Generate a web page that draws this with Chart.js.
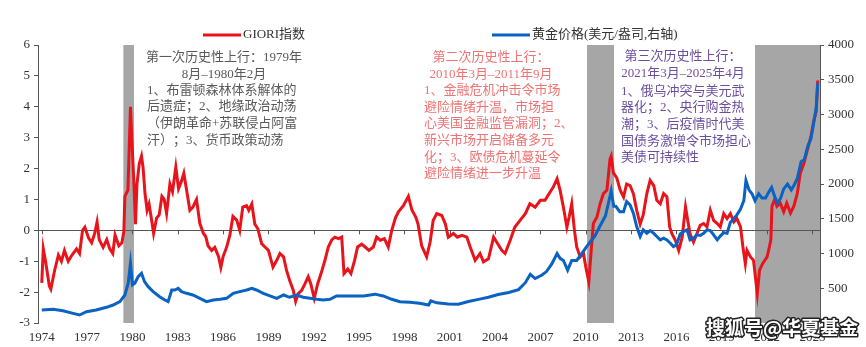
<!DOCTYPE html>
<html>
<head>
<meta charset="utf-8">
<script src="https://cdn.jsdelivr.net/npm/chart.js@4.4.1/dist/chart.umd.min.js"></script>
<style>
  body { margin: 0; background: #fff; }
  canvas { display: block; }
</style>
</head>
<body>
<canvas id="myChart" width="866" height="347"></canvas>
<script>
// --- data (decimal years) ---
const yearTicks = [1974, 1977, 1980, 1983, 1986, 1989, 1992, 1995, 1998, 2001, 2004, 2007, 2010, 2013, 2016, 2019, 2022, 2025];
const leftTicks = [-3, -2, -1, 0, 1, 2, 3, 4, 5, 6];
const rightTicks = [500, 1000, 1500, 2000, 2500, 3000, 3500, 4000];

const shadeStart = [1979.4, 2010.08, 2021.2];
const shadeEnd = [1980.1, 2011.87, 2025.5];

const giorDates = [
  1974.0, 1974.1, 1974.25, 1974.5, 1974.6, 1974.85, 1975.1, 1975.3, 1975.5, 1975.75,
  1976.0, 1976.3, 1976.5, 1976.7, 1976.85, 1977.1, 1977.3, 1977.5, 1977.66, 1977.8,
  1978.06, 1978.3, 1978.5, 1978.7, 1978.85, 1979.1, 1979.3, 1979.43, 1979.5, 1979.7,
  1979.87, 1979.95, 1980.1, 1980.2, 1980.3, 1980.45, 1980.6, 1980.7, 1980.83, 1980.97,
  1981.1, 1981.27, 1981.4, 1981.6, 1981.77, 1981.95, 1982.1, 1982.26, 1982.48, 1982.65,
  1982.87, 1983.05, 1983.25, 1983.4, 1983.55, 1983.8, 1984.0, 1984.24, 1984.46, 1984.7,
  1984.85, 1985.0, 1985.24, 1985.45, 1985.7, 1985.85, 1986.0, 1986.23, 1986.45, 1986.65,
  1986.9, 1987.1, 1987.3, 1987.55, 1987.7, 1987.9, 1988.1, 1988.3, 1988.55, 1988.77,
  1989.0, 1989.3, 1989.55, 1989.76, 1990.0, 1990.2, 1990.4, 1990.64, 1990.8, 1990.97,
  1991.2, 1991.4, 1991.63, 1991.8, 1992.03, 1992.26, 1992.48, 1992.74, 1992.96, 1993.2,
  1993.4, 1993.63, 1993.85, 1994.0, 1994.25, 1994.46, 1994.7, 1994.9, 1995.17, 1995.4,
  1995.65, 1995.94, 1996.16, 1996.4, 1996.67, 1996.93, 1997.16, 1997.4, 1997.6, 1997.93,
  1998.26, 1998.5, 1998.75, 1998.9, 1999.14, 1999.47, 1999.7, 1999.9, 2000.14, 2000.47,
  2000.7, 2000.9, 2001.24, 2001.5, 2001.8, 2002.13, 2002.35, 2002.68, 2003.0, 2003.23,
  2003.56, 2003.9, 2004.1, 2004.44, 2004.66, 2005.0, 2005.3, 2005.65, 2006.0, 2006.3,
  2006.65, 2007.0, 2007.3, 2007.64, 2007.85, 2008.1, 2008.3, 2008.52, 2008.75, 2008.9,
  2009.07, 2009.25, 2009.4, 2009.63, 2009.85, 2010.0, 2010.2, 2010.36, 2010.5, 2010.74,
  2010.95, 2011.17, 2011.4, 2011.6, 2011.68, 2011.83, 2012.05, 2012.28, 2012.5, 2012.7,
  2012.93, 2013.15, 2013.37, 2013.6, 2013.8, 2014.04, 2014.26, 2014.5, 2014.7, 2014.93,
  2015.15, 2015.37, 2015.55, 2015.7, 2015.93, 2016.15, 2016.38, 2016.6, 2016.75, 2016.9,
  2017.13, 2017.35, 2017.57, 2017.8, 2018.02, 2018.24, 2018.46, 2018.7, 2018.9, 2019.13,
  2019.35, 2019.57, 2019.8, 2020.0, 2020.24, 2020.4, 2020.56, 2020.67, 2020.9, 2021.1,
  2021.35, 2021.5, 2021.7, 2022.0, 2022.15, 2022.25, 2022.32, 2022.5, 2022.65, 2022.87,
  2023.1, 2023.3, 2023.55, 2023.77, 2024.0, 2024.2, 2024.44, 2024.66, 2024.9, 2025.1,
  2025.25, 2025.35
];
const giorValues = [
  -1.7, -0.6, -1.0, -1.8, -1.9, -1.3, -0.8, -1.0, -0.65, -1.0,
  -0.8, -0.6, -0.75, 0.0, 0.1, -0.25, -0.4, -0.1, 0.27, -0.3,
  -0.55, -0.3, -0.6, -0.75, -0.15, -0.5, -0.4, -0.05, 1.1, 1.3,
  4.0, 3.1, 1.5, 0.2, 1.5, 2.15, 2.4, 2.05, 1.2, 0.65,
  0.85, 0.33, -0.1, 0.4, 0.5, 1.1, 1.0, 0.55, 1.5, 1.25,
  2.05, 1.35, 1.6, 1.85, 1.4, 0.65, 0.75, 1.0, 0.22, -0.1,
  -0.2, -0.5, -0.65, -0.55, -0.85, -1.2, -0.85, -0.55, -0.15, 0.45,
  0.33, 0.0, 0.75, 0.8, 0.65, 0.85, 0.2, 0.05, -0.43, -0.54,
  -0.65, -1.19, -0.97, -0.75, -0.86, -1.3, -1.62, -1.94, -2.3, -2.05,
  -1.94, -1.75, -1.5, -1.73, -2.2, -1.73, -1.4, -0.97, -0.54, -0.3,
  -0.22, -0.27, -0.22, -1.4, -1.25, -1.4, -0.97, -0.54, -0.45, -0.54,
  -0.65, -0.54, -0.22, -0.32, -0.27, -0.54, 0.0, 0.4, 0.6, 0.8,
  1.1, 0.65, 0.43, 0.2, -0.5, -0.86, -0.38, 0.32, 0.54, 0.48,
  0.22, -0.22, -0.1, -0.22, -0.16, -0.22, -0.54, -0.97, -0.75, -1.02,
  -0.92, -0.22, -0.38, -0.65, -0.75, -0.32, 0.1, 0.32, 0.54, 0.86,
  0.75, 0.97, 0.97, 1.24, 1.4, 1.67, 1.3, 0.75, 0.1, 0.43,
  0.86, 0.0, -0.54, -0.86, -0.75, -1.19, -1.67, -0.65, 0.22, 0.43,
  0.86, 1.19, 1.3, 2.3, 2.4, 1.86, 1.7, 1.3, 1.08, 1.5,
  1.45, 1.19, 0.65, 0.2, 0.5, 1.19, 1.62, 1.45, 0.97, 0.86,
  1.19, 1.08, 0.11, -0.11, -0.32, -0.65, -0.22, 0.76, 0.32, -0.11,
  -0.38, -0.11, 0.16, 0.22, 0.11, 0.65, 0.32, 0.22, 0.11, 0.54,
  0.38, 0.54, 0.27, 0.38, 0.11, -0.54, -1.08, -0.65, -0.86, -0.97,
  -2.05, -1.29, -1.08, -0.86, -0.54, -0.3, 0.78, 1.0, 0.78, 0.88,
  0.6, 0.88, 0.56, 0.78, 1.2, 1.86, 2.18, 2.6, 3.04, 3.58,
  3.85, 4.85
];

const goldDates = [
  1974.0, 1974.75, 1975.4, 1976.07, 1976.5, 1976.96, 1977.6, 1978.28, 1978.72, 1979.17,
  1979.5, 1979.72, 1979.87, 1980.0, 1980.16, 1980.38, 1980.6, 1980.8, 1981.04, 1981.37,
  1981.8, 1982.15, 1982.36, 1982.6, 1982.8, 1983.03, 1983.25, 1983.58, 1984.0, 1984.46,
  1984.9, 1985.35, 1985.8, 1986.23, 1986.67, 1987.1, 1987.56, 1987.9, 1988.2, 1988.66,
  1989.1, 1989.55, 1990.0, 1990.4, 1990.87, 1991.3, 1991.75, 1992.2, 1992.63, 1993.07,
  1993.5, 1993.95, 1994.6, 1995.3, 1996.05, 1996.6, 1997.16, 1997.7, 1998.37, 1999.0,
  1999.6, 1999.75, 2000.14, 2000.9, 2001.57, 2002.23, 2002.9, 2003.56, 2004.2, 2004.9,
  2005.55, 2006.0, 2006.33, 2006.65, 2007.1, 2007.4, 2007.75, 2008.1, 2008.3, 2008.52,
  2008.8, 2009.07, 2009.4, 2009.74, 2010.0, 2010.3, 2010.6, 2010.95, 2011.3, 2011.6,
  2011.68, 2011.85, 2012.0, 2012.25, 2012.5, 2012.7, 2012.93, 2013.15, 2013.37, 2013.6,
  2013.8, 2014.04, 2014.26, 2014.5, 2014.7, 2014.93, 2015.15, 2015.37, 2015.6, 2015.8,
  2016.0, 2016.25, 2016.47, 2016.7, 2016.9, 2017.13, 2017.35, 2017.57, 2017.8, 2018.02,
  2018.24, 2018.46, 2018.7, 2018.9, 2019.13, 2019.35, 2019.57, 2019.8, 2020.0, 2020.24,
  2020.46, 2020.6, 2020.8, 2021.0, 2021.2, 2021.44, 2021.66, 2021.9, 2022.1, 2022.3,
  2022.5, 2022.7, 2022.9, 2023.1, 2023.35, 2023.6, 2023.8, 2024.0, 2024.25, 2024.46,
  2024.7, 2024.9, 2025.1, 2025.25, 2025.35
];
const goldValues = [
  187, 197, 177, 139, 115, 163, 187, 226, 259, 307,
  403, 572, 860, 548, 572, 667, 716, 595, 523, 451,
  379, 331, 307, 475, 475, 499, 451, 427, 403, 355,
  307, 331, 341, 355, 427, 451, 475, 499, 475, 427,
  389, 355, 403, 370, 403, 370, 355, 341, 331, 341,
  389, 389, 389, 389, 415, 389, 341, 307, 300, 283,
  259, 320, 290, 275, 270, 310, 340, 370, 410, 440,
  480, 580, 700, 640, 690, 740, 850, 1000, 930, 900,
  760, 900, 900, 1000, 1080, 1170, 1250, 1400, 1540, 1820,
  1900, 1680, 1676, 1600, 1600, 1748, 1700, 1580, 1388, 1244,
  1340, 1292, 1330, 1290, 1244, 1196, 1220, 1196, 1148, 1100,
  1124, 1280, 1316, 1340, 1196, 1220, 1268, 1260, 1290, 1340,
  1330, 1268, 1196, 1250, 1300, 1290, 1450, 1500, 1556, 1640,
  1760, 2050, 1916, 1860, 1760, 1860, 1800, 1800, 1880, 1950,
  1820, 1724, 1800, 1930, 2000, 1916, 1990, 2080, 2320, 2350,
  2550, 2650, 2900, 3100, 3450
];

/* 注释文字 --------------------------------------------------------------- */
const notes = [
  { color: '#595959', center: 224, left: 147,
    head: [['第一次历史性上行：1979年', 58], ['8月–1980年2月', 75]],
    body: [['1、布雷顿森林体系解体的', 91], ['后遗症；2、地缘政治动荡', 107], ['（伊朗革命+苏联侵占阿富', 124], ['汗）；3、货币政策动荡', 141]] },
  { color: '#f07373', center: 491, left: 424,
    head: [['第二次历史性上行：', 58], ['2010年3月–2011年9月', 75]],
    body: [['1、金融危机冲击令市场', 91], ['避险情绪升温，市场担', 108], ['心美国金融监管漏洞；2、', 124], ['新兴市场开启储备多元', 141], ['化；3、欧债危机蔓延令', 158], ['避险情绪进一步升温', 174]] },
  { color: '#6c4fa0', center: 683, left: 621,
    head: [['第三次历史性上行：', 57], ['2021年3月–2025年4月', 74]],
    body: [['1、俄乌冲突与美元武', 92], ['器化；2、央行购金热', 108], ['潮；3、后疫情时代美', 125], ['国债务激增令市场担心', 142], ['美债可持续性', 158]] }
];

const serif = "'Times New Roman', 'Liberation Serif', 'Noto Sans CJK SC', serif";

const decor = {
  id: 'decor',
  beforeDraw(chart) {
    const { ctx, chartArea, scales } = chart;
    ctx.save();
    ctx.fillStyle = '#a6a6a6';
    shadeStart.forEach((s, i) => {
      const x1 = scales.x.getPixelForValue(s);
      const x2 = scales.x.getPixelForValue(shadeEnd[i]);
      ctx.fillRect(x1, chartArea.top, x2 - x1, chartArea.bottom - chartArea.top);
    });
    ctx.restore();
  },
  beforeDatasetsDraw(chart) {
    // ticks on the zero line
    const { ctx, scales } = chart;
    const y0 = scales.y.getPixelForValue(0);
    ctx.save();
    ctx.strokeStyle = '#555';
    ctx.lineWidth = 1;
    yearTicks.forEach(v => {
      const x = Math.round(scales.x.getPixelForValue(v)) + 0.5;
      ctx.beginPath();
      ctx.moveTo(x, y0);
      ctx.lineTo(x, y0 + 4);
      ctx.stroke();
    });
    ctx.restore();
  },
  afterDraw(chart) {
    const { ctx } = chart;
    ctx.save();
    // legend
    const items = [[203, chart.data.datasets[1]], [492, chart.data.datasets[0]]];
    items.forEach(([x, ds]) => {
      ctx.strokeStyle = ds.borderColor;
      ctx.lineWidth = 3;
      ctx.beginPath();
      ctx.moveTo(x, 35);
      ctx.lineTo(x + 38, 35);
      ctx.stroke();
      ctx.fillStyle = '#333';
      ctx.font = '13px ' + serif;
      ctx.textBaseline = 'middle';
      ctx.textAlign = 'left';
      ctx.fillText(ds.label, x + 40, 35);
    });
    // annotations
    ctx.font = '13px ' + serif;
    ctx.textBaseline = 'middle';
    notes.forEach(n => {
      ctx.fillStyle = n.color;
      ctx.textAlign = 'center';
      n.head.forEach(([t, y]) => ctx.fillText(t, n.center, y));
      ctx.textAlign = 'left';
      n.body.forEach(([t, y]) => ctx.fillText(t, n.left, y));
    });
    // watermark
    ctx.font = 'bold 19px "Noto Sans CJK SC"';
    ctx.textAlign = 'left';
    ctx.lineJoin = 'round';
    ctx.lineWidth = 3;
    ctx.strokeStyle = '#222';
    ctx.strokeText('搜狐号@华夏基金', 706, 328);
    ctx.fillStyle = '#fff';
    ctx.fillText('搜狐号@华夏基金', 706, 328);
    ctx.restore();
  }
};

const config = {
  type: 'line',
  data: {
    datasets: [
      {
        label: '黄金价格(美元/盎司,右轴)',
        data: goldDates.map((d, i) => ({ x: d, y: goldValues[i] })),
        yAxisID: 'y1',
        borderColor: '#0a62c2',
        borderWidth: 3,
        pointRadius: 0,
        tension: 0,
        order: 0
      },
      {
        label: 'GIORI指数',
        data: giorDates.map((d, i) => ({ x: d, y: giorValues[i] })),
        yAxisID: 'y',
        borderColor: '#e8141c',
        borderWidth: 3,
        pointRadius: 0,
        tension: 0,
        order: 1
      }
    ]
  },
  options: {
    responsive: false,
    devicePixelRatio: 1,
    animation: false,
    layout: { padding: { top: 45, left: 0, right: 0, bottom: 0 } },
    plugins: {
      legend: { display: false },
      tooltip: { enabled: false }
    },
    scales: {
      x: {
        type: 'linear',
        min: 1973.75,
        max: 2025.5,
        position: 'bottom',
        afterBuildTicks: (axis) => { axis.ticks = yearTicks.map(v => ({ value: v })); },
        afterFit: (axis) => { axis.height = 24; },
        grid: { display: false, drawTicks: false },
        border: { display: false },
        ticks: { color: '#333', font: { family: serif, size: 13 }, padding: 7, maxRotation: 0, autoSkip: false, callback: v => String(v) }
      },
      y: {
        position: 'left',
        min: -3,
        max: 6,
        afterBuildTicks: (axis) => { axis.ticks = leftTicks.map(v => ({ value: v })); },
        afterFit: (axis) => { axis.width = 38; },
        grid: {
          drawOnChartArea: true,
          color: c => (c.tick && c.tick.value === 0) ? '#555' : 'rgba(0,0,0,0)',
          tickColor: '#555',
          tickLength: 4
        },
        border: { display: true, color: '#555' },
        ticks: { color: '#333', font: { family: serif, size: 13 }, padding: 4, callback: v => String(v) }
      },
      y1: {
        position: 'right',
        min: 0,
        max: 4000,
        afterBuildTicks: (axis) => { axis.ticks = rightTicks.map(v => ({ value: v })); },
        afterFit: (axis) => { axis.width = 46; },
        grid: { drawOnChartArea: false, tickColor: '#555', tickLength: 4 },
        border: { display: true, color: '#555' },
        ticks: { color: '#333', font: { family: serif, size: 13 }, padding: 4, callback: v => String(v) }
      }
    }
  },
  plugins: [decor]
};

let chartDOM = document.getElementById('myChart');
let myChart = new Chart(chartDOM, config);
</script>
</body>
</html>
